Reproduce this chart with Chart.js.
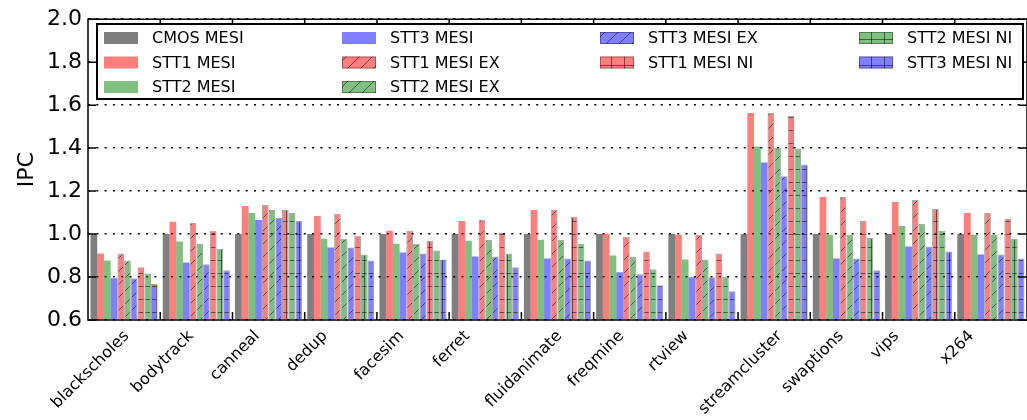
<!DOCTYPE html>
<html>
<head>
<meta charset="utf-8">
<script src="https://cdn.jsdelivr.net/npm/chart.js@4.4.1/dist/chart.umd.min.js"></script>
<style>
  html, body { margin: 0; padding: 0; background: #fff; }
  #wrap { width: 1027px; height: 420px; }
</style>
</head>
<body>
<div id="wrap"><canvas id="myChart" width="1027" height="420"></canvas></div>
<script>
const benchmarks = [
  "blackscholes", "bodytrack", "canneal", "dedup", "facesim", "ferret",
  "fluidanimate", "freqmine", "rtview", "streamcluster", "swaptions", "vips", "x264",
];

const seriesNames = [
  "CMOS MESI", "STT1 MESI", "STT2 MESI", "STT3 MESI",
  "STT1 MESI EX", "STT2 MESI EX", "STT3 MESI EX",
  "STT1 MESI NI", "STT2 MESI NI", "STT3 MESI NI",
];

// IPC, normalised to CMOS MESI
const cmosMesi   = [1.0, 1.0, 1.0, 1.0, 1.0, 1.0, 1.0, 1.0, 1.0, 1.0, 1.0, 1.0, 1.0];
const stt1Mesi   = [0.909, 1.057, 1.131, 1.084, 1.015, 1.061, 1.112, 1.000, 0.997, 1.564, 1.172, 1.149, 1.098];
const stt2Mesi   = [0.877, 0.965, 1.098, 0.978, 0.955, 0.969, 0.974, 0.900, 0.882, 1.407, 0.997, 1.038, 0.997];
const stt3Mesi   = [0.794, 0.868, 1.066, 0.937, 0.914, 0.896, 0.886, 0.822, 0.799, 1.333, 0.886, 0.942, 0.905];
const stt1MesiEx = [0.909, 1.052, 1.135, 1.094, 1.015, 1.066, 1.112, 0.988, 0.997, 1.564, 1.172, 1.158, 1.098];
const stt2MesiEx = [0.877, 0.955, 1.112, 0.978, 0.955, 0.974, 0.974, 0.896, 0.882, 1.402, 0.997, 1.048, 0.997];
const stt3MesiEx = [0.794, 0.859, 1.075, 0.937, 0.909, 0.896, 0.886, 0.813, 0.799, 1.269, 0.886, 0.942, 0.905];
const stt1MesiNi = [0.845, 1.015, 1.112, 0.992, 0.969, 1.006, 1.080, 0.919, 0.909, 1.550, 1.061, 1.117, 1.071];
const stt2MesiNi = [0.817, 0.932, 1.098, 0.905, 0.923, 0.909, 0.955, 0.836, 0.803, 1.398, 0.983, 1.015, 0.978];
const stt3MesiNi = [0.767, 0.831, 1.061, 0.877, 0.882, 0.845, 0.877, 0.762, 0.734, 1.324, 0.831, 0.919, 0.886];

const yTicks = [0.6, 0.8, 1.0, 1.2, 1.4, 1.6, 1.8, 2.0];

const allSeries = [
  cmosMesi, stt1Mesi, stt2Mesi, stt3Mesi,
  stt1MesiEx, stt2MesiEx, stt3MesiEx,
  stt1MesiNi, stt2MesiNi, stt3MesiNi,
];

const GRAY = "rgba(0,0,0,0.5)";
const RED = "rgba(255,0,0,0.5)";
const GREEN = "rgba(0,128,0,0.5)";
const BLUE = "rgba(0,0,255,0.5)";

const seriesColors = [GRAY, RED, GREEN, BLUE, RED, GREEN, BLUE, RED, GREEN, BLUE];
const seriesHatch = [null, null, null, null, "diag", "diag", "diag", "grid", "grid", "grid"];

Chart.defaults.font.family = "'DejaVu Sans', sans-serif";
Chart.defaults.color = "#000";

let make_hatch = (color, kind) => {
  const s = 13;
  const c = document.createElement("canvas");
  c.width = s;
  c.height = s;
  const g = c.getContext("2d");
  g.fillStyle = color;
  g.fillRect(0, 0, s, s);
  g.strokeStyle = "rgba(0,0,0,0.5)";
  g.lineWidth = 1;
  g.beginPath();
  if (kind === "diag") {
    g.moveTo(-1, s + 1);
    g.lineTo(s + 1, -1);
    g.moveTo(-2, 2);
    g.lineTo(2, -2);
    g.moveTo(s - 2, s + 2);
    g.lineTo(s + 2, s - 2);
  } else {
    g.moveTo(0, 0.5);
    g.lineTo(s, 0.5);
    g.moveTo(0.5, 0);
    g.lineTo(0.5, s);
  }
  g.stroke();
  return g.createPattern(c, "repeat");
};

const datasets = allSeries.map((values, i) => {
  const hatch = seriesHatch[i];
  return {
    label: seriesNames[i],
    data: values,
    backgroundColor: hatch ? make_hatch(seriesColors[i], hatch) : seriesColors[i],
    borderColor: "rgba(0,0,0,0.35)",
    borderWidth: hatch ? 1 : 0,
    categoryPercentage: 0.93,
    barPercentage: 1.0,
    base: 0.6,
  };
});

// matplotlib-style frame with inward ticks
const framePlugin = {
  id: "frame",
  afterDatasetsDraw(chart) {
    const ctx = chart.ctx;
    const { left, right, top, bottom } = chart.chartArea;
    const ys = chart.scales.y;
    const n = benchmarks.length;
    const w = (right - left) / n;
    ctx.save();
    ctx.strokeStyle = "#000";
    ctx.lineWidth = 1.5;
    ctx.strokeRect(left, top, right - left, bottom - top);
    ctx.beginPath();
    yTicks.forEach((v) => {
      const py = ys.getPixelForValue(v);
      ctx.moveTo(left, py);
      ctx.lineTo(left + 8, py);
      ctx.moveTo(right, py);
      ctx.lineTo(right - 8, py);
    });
    for (let i = 1; i < n; i++) {
      const px = left + i * w;
      ctx.moveTo(px, bottom);
      ctx.lineTo(px, bottom - 8);
      ctx.moveTo(px, top);
      ctx.lineTo(px, top + 8);
    }
    ctx.stroke();

    // category labels: rotated 45deg, box centred under the start of each group
    const meta = chart.getDatasetMeta(0);
    ctx.font = "16px 'DejaVu Sans'";
    ctx.fillStyle = "#000";
    ctx.textAlign = "center";
    ctx.textBaseline = "middle";
    benchmarks.forEach((name, i) => {
      const bar = meta.data[i];
      const gx = bar.x - bar.width / 2;
      const L = ctx.measureText(name).width;
      const cy = bottom + 9 + ((L + 13) * Math.SQRT1_2) / 2;
      ctx.save();
      ctx.translate(gx, cy);
      ctx.rotate(-Math.PI / 4);
      ctx.fillText(name, 0, 0);
      ctx.restore();
    });
    ctx.restore();
  },
};

// boxed legend, 4 columns filled column by column
const legendPlugin = {
  id: "boxLegend",
  afterDraw(chart) {
    const ctx = chart.ctx;
    const colX = [104, 342, 600, 859];
    const rowY = [38, 62.5, 87];
    const cols = [[0, 1, 2], [3, 4, 5], [6, 7], [8, 9]];
    ctx.save();
    ctx.fillStyle = "#fff";
    ctx.fillRect(97, 24, 926, 75);
    ctx.lineWidth = 2;
    ctx.strokeStyle = "#000";
    ctx.strokeRect(97, 24, 926, 75);
    ctx.font = "16px 'DejaVu Sans'";
    ctx.textBaseline = "middle";
    cols.forEach((col, c) => {
      col.forEach((di, r) => {
        const ds = chart.data.datasets[di];
        const x = colX[c];
        const y = rowY[r];
        ctx.fillStyle = ds.backgroundColor;
        ctx.fillRect(x, y - 6, 34, 12);
        if (ds.borderWidth) {
          ctx.strokeStyle = ds.borderColor;
          ctx.lineWidth = 1;
          ctx.strokeRect(x + 0.5, y - 5.5, 33, 11);
        }
        ctx.fillStyle = "#000";
        ctx.fillText(ds.label, x + 48, y + 1);
      });
    });
    ctx.restore();
  },
};

const ctx = document.getElementById("myChart").getContext("2d");

const myChart = new Chart(ctx, {
  type: "bar",
  data: {
    labels: benchmarks,
    datasets: datasets,
  },
  options: {
    responsive: false,
    animation: false,
    layout: {
      padding: { top: 15, right: -4, left: 0, bottom: 0 },
    },
    plugins: {
      legend: { display: false },
      tooltip: { enabled: false },
    },
    scales: {
      x: {
        grid: { display: false },
        border: { display: false },
        ticks: { display: false },
        afterFit: (scale) => {
          scale.height = 100;
        },
      },
      y: {
        min: 0.6,
        max: 2.0,
        afterBuildTicks: (scale) => {
          scale.ticks = yTicks.map((v) => ({ value: v }));
        },
        ticks: {
          padding: 6,
          font: { size: 22 },
          color: "#000",
          callback: (v) => Number(v).toFixed(1),
        },
        grid: {
          color: "#000",
          lineWidth: 1.5,
          drawTicks: false,
        },
        border: { display: false, dash: [2, 6.3] },
        title: {
          display: true,
          text: "IPC",
          font: { size: 22 },
          color: "#000",
          padding: { top: 14, bottom: 0 },
        },
        afterFit: (scale) => {
          scale.width = 88;
        },
      },
    },
  },
  plugins: [framePlugin, legendPlugin],
});
</script>
</body>
</html>
